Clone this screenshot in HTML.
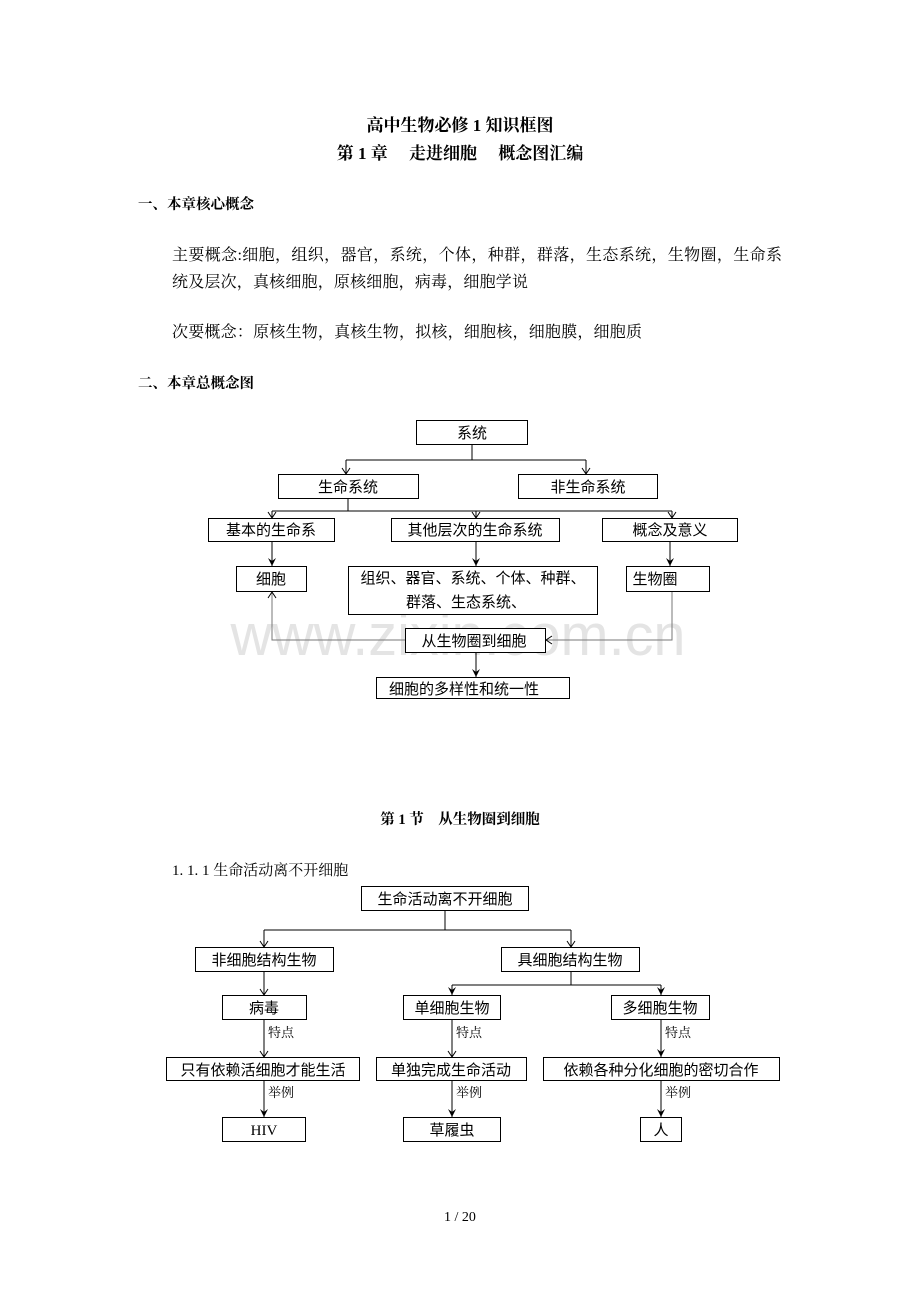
<!DOCTYPE html>
<html><head><meta charset="utf-8"><style>
html,body{margin:0;padding:0;background:#fff}
svg{display:block}
.s{font-family:"Liberation Serif","Noto Serif CJK SC",serif;fill:#000}
.d{font-family:"Liberation Sans","Noto Sans CJK SC",sans-serif;fill:#000;font-size:15px}
rect{fill:#fff;stroke:#000;stroke-width:1}
line,polyline{stroke:#000;stroke-width:1;fill:none}
.g line,.g polyline{stroke:#777}
</style></head><body>
<svg width="920" height="1302" viewBox="0 0 920 1302" xmlns="http://www.w3.org/2000/svg">
<defs>
<marker id="a" markerWidth="10" markerHeight="10" refX="8" refY="5" orient="auto" markerUnits="userSpaceOnUse" viewBox="0 0 10 10"><path d="M2,1 L8,5 L2,9" fill="none" stroke="#000"/></marker>
<marker id="b" markerWidth="10" markerHeight="10" refX="9" refY="5" orient="auto" markerUnits="userSpaceOnUse" viewBox="0 0 10 10"><path d="M1,1 L9,5 L1,9 L4,5z" fill="#000"/></marker>
</defs>

<text class="s" x="460" y="131" font-size="17" font-weight="bold" text-anchor="middle">高中生物必修 1 知识框图</text>
<text class="s" x="460" y="159" font-size="17" font-weight="bold" text-anchor="middle">第 1 章　 走进细胞　 概念图汇编</text>
<text class="s" x="138" y="209" font-size="14.5" font-weight="bold">一、本章核心概念</text>
<text class="s" x="172" y="260" font-size="16" textLength="610" lengthAdjust="spacing">主要概念:细胞，组织，器官，系统，个体，种群，群落，生态系统，生物圈，生命系</text>
<text class="s" x="172" y="287" font-size="16" textLength="356" lengthAdjust="spacing">统及层次，真核细胞，原核细胞，病毒，细胞学说</text>
<text class="s" x="172" y="337" font-size="16" textLength="470" lengthAdjust="spacing">次要概念：原核生物，真核生物，拟核，细胞核，细胞膜，细胞质</text>
<text class="s" x="138" y="388" font-size="14.5" font-weight="bold">二、本章总概念图</text>

<text x="458" y="655" font-family="Liberation Sans,sans-serif" font-size="58" fill="#e4e4e4" text-anchor="middle" textLength="455" lengthAdjust="spacingAndGlyphs">www.zixin.com.cn</text>

<!-- diagram 1 -->
<g>
<line x1="472" y1="445" x2="472" y2="460"/>
<line x1="346" y1="460" x2="586" y2="460"/>
<line x1="346" y1="460" x2="346" y2="474" marker-end="url(#a)"/>
<line x1="586" y1="460" x2="586" y2="474" marker-end="url(#a)"/>
<line x1="348" y1="499" x2="348" y2="511"/>
<line x1="272" y1="511" x2="672" y2="511"/>
<line x1="272" y1="511" x2="272" y2="518" marker-end="url(#a)"/>
<line x1="476" y1="511" x2="476" y2="518" marker-end="url(#a)"/>
<line x1="672" y1="511" x2="672" y2="518" marker-end="url(#a)"/>
<line x1="272" y1="541" x2="272" y2="566" marker-end="url(#b)"/>
<line x1="476" y1="541" x2="476" y2="566" marker-end="url(#b)"/>
<line x1="670" y1="541" x2="670" y2="566" marker-end="url(#b)"/>
<line x1="476" y1="652" x2="476" y2="677" marker-end="url(#b)"/>
</g>
<g class="g">
<polyline points="672,591 672,640 546,640"/>
<polyline points="405,640 272,640 272,592"/>
</g>
<path d="M552,636 L546,640 L552,644" fill="none" stroke="#000"/>
<path d="M268,598 L272,592 L276,598" fill="none" stroke="#000"/>
<rect x="416.5" y="420.5" width="111" height="24"/><text class="d" x="472" y="438" text-anchor="middle">系统</text>
<rect x="278.5" y="474.5" width="140" height="24"/><text class="d" x="348" y="492" text-anchor="middle">生命系统</text>
<rect x="518.5" y="474.5" width="139" height="24"/><text class="d" x="588" y="492" text-anchor="middle">非生命系统</text>
<rect x="208.5" y="518.5" width="126" height="23"/><text class="d" x="271" y="535" text-anchor="middle">基本的生命系</text>
<rect x="391.5" y="518.5" width="168" height="23"/><text class="d" x="475" y="535" text-anchor="middle">其他层次的生命系统</text>
<rect x="602.5" y="518.5" width="135" height="23"/><text class="d" x="670" y="535" text-anchor="middle">概念及意义</text>
<rect x="236.5" y="566.5" width="70" height="25"/><text class="d" x="271" y="584" text-anchor="middle">细胞</text>
<rect x="348.5" y="566.5" width="249" height="48"/><text class="d" x="473" y="583" text-anchor="middle">组织、器官、系统、个体、种群、</text><text class="d" x="466" y="607" text-anchor="middle">群落、生态系统、</text>
<rect x="626.5" y="566.5" width="83" height="25"/><text class="d" x="655" y="584" text-anchor="middle">生物圈</text>
<rect x="405.5" y="628.5" width="140" height="24"/><text class="d" x="474" y="646" text-anchor="middle">从生物圈到细胞</text>
<rect x="376.5" y="677.5" width="193" height="21"/><text class="d" x="464" y="694" text-anchor="middle">细胞的多样性和统一性</text>

<text class="s" x="460" y="824" font-size="14.5" font-weight="bold" text-anchor="middle">第 1 节　从生物圈到细胞</text>
<text class="s" x="172" y="875" font-size="15">1. 1. 1  生命活动离不开细胞</text>

<!-- diagram 2 -->
<g>
<line x1="445" y1="910" x2="445" y2="930"/>
<line x1="264" y1="930" x2="571" y2="930"/>
<line x1="264" y1="930" x2="264" y2="947" marker-end="url(#a)"/>
<line x1="571" y1="930" x2="571" y2="947" marker-end="url(#a)"/>
<line x1="264" y1="971" x2="264" y2="995" marker-end="url(#a)"/>
<line x1="571" y1="971" x2="571" y2="985"/>
<line x1="452" y1="985" x2="661" y2="985"/>
<line x1="452" y1="985" x2="452" y2="995" marker-end="url(#b)"/>
<line x1="661" y1="985" x2="661" y2="995" marker-end="url(#b)"/>
<line x1="264" y1="1019" x2="264" y2="1057" marker-end="url(#a)"/>
<line x1="452" y1="1019" x2="452" y2="1057" marker-end="url(#a)"/>
<line x1="661" y1="1019" x2="661" y2="1057" marker-end="url(#b)"/>
<line x1="264" y1="1080" x2="264" y2="1117" marker-end="url(#b)"/>
<line x1="452" y1="1080" x2="452" y2="1117" marker-end="url(#b)"/>
<line x1="661" y1="1080" x2="661" y2="1117" marker-end="url(#b)"/>
</g>
<g class="s" font-size="13">
<text x="268" y="1037">特点</text><text x="456" y="1037">特点</text><text x="665" y="1037">特点</text>
<text x="268" y="1097">举例</text><text x="456" y="1097">举例</text><text x="665" y="1097">举例</text>
</g>
<rect x="361.5" y="886.5" width="167" height="24"/><text class="d" x="445" y="904" text-anchor="middle">生命活动离不开细胞</text>
<rect x="195.5" y="947.5" width="138" height="24"/><text class="d" x="264" y="965" text-anchor="middle">非细胞结构生物</text>
<rect x="501.5" y="947.5" width="138" height="24"/><text class="d" x="570" y="965" text-anchor="middle">具细胞结构生物</text>
<rect x="222.5" y="995.5" width="84" height="24"/><text class="d" x="264" y="1013" text-anchor="middle">病毒</text>
<rect x="403.5" y="995.5" width="97" height="24"/><text class="d" x="452" y="1013" text-anchor="middle">单细胞生物</text>
<rect x="611.5" y="995.5" width="98" height="24"/><text class="d" x="660" y="1013" text-anchor="middle">多细胞生物</text>
<rect x="166.5" y="1057.5" width="193" height="23"/><text class="d" x="263" y="1075" text-anchor="middle">只有依赖活细胞才能生活</text>
<rect x="376.5" y="1057.5" width="150" height="23"/><text class="d" x="451" y="1075" text-anchor="middle">单独完成生命活动</text>
<rect x="543.5" y="1057.5" width="236" height="23"/><text class="d" x="661" y="1075" text-anchor="middle">依赖各种分化细胞的密切合作</text>
<rect x="222.5" y="1117.5" width="83" height="24"/><text class="s" x="264" y="1135" font-size="15" text-anchor="middle">HIV</text>
<rect x="403.5" y="1117.5" width="97" height="24"/><text class="d" x="452" y="1135" text-anchor="middle">草履虫</text>
<rect x="640.5" y="1117.5" width="41" height="24"/><text class="d" x="661" y="1135" text-anchor="middle">人</text>

<text class="s" x="460" y="1221" font-size="14" text-anchor="middle">1  / 20</text>
</svg>
</body></html>
